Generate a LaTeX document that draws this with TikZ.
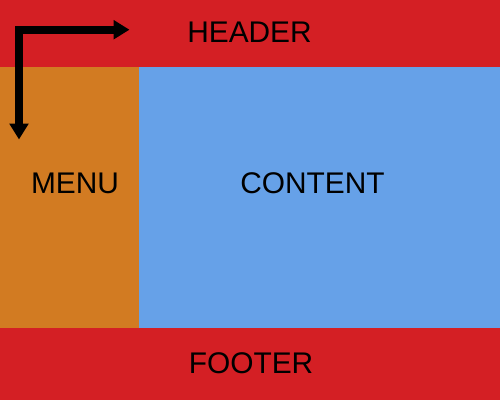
\documentclass[tikz,border=0pt]{standalone}
\usepackage{fontspec}
\setmainfont{Liberation Sans}
\usetikzlibrary{arrows.meta}
\definecolor{barred}{RGB}{212,31,36}
\definecolor{menuorange}{RGB}{210,123,34}
\definecolor{contentblue}{RGB}{102,161,232}
\begin{document}
\begin{tikzpicture}[x=0.02cm,y=-0.02cm,
  region/.style={draw=none},
  label/.style={inner sep=0pt,font=\fontsize{17}{20}\selectfont},
  flow/.style={line width=8*0.02cm,{Triangle[length=0.32cm,width=0.37cm]}-{Triangle[length=0.32cm,width=0.37cm]}}]
  \useasboundingbox (0,0) rectangle (500,400);
  % page regions
  \fill[barred] (0,0) rectangle (500,67);
  \fill[menuorange] (0,67) rectangle (139,328);
  \fill[contentblue] (139,67) rectangle (500,328);
  \fill[barred] (0,328) rectangle (500,400);
  % labels
  \node[label] (header) at (249.5,32.5) {HEADER};
  \node[label] (menu) at (75,183) {MENU};
  \node[label] (content) at (312.5,183) {CONTENT};
  \node[label] (footer) at (251,363) {FOOTER};
  % reading-order arrow
  \coordinate (down) at (19,139.5);
  \coordinate (right) at (129.5,29.7);
  \draw[flow] (down) |- (right);
\end{tikzpicture}
\end{document}
